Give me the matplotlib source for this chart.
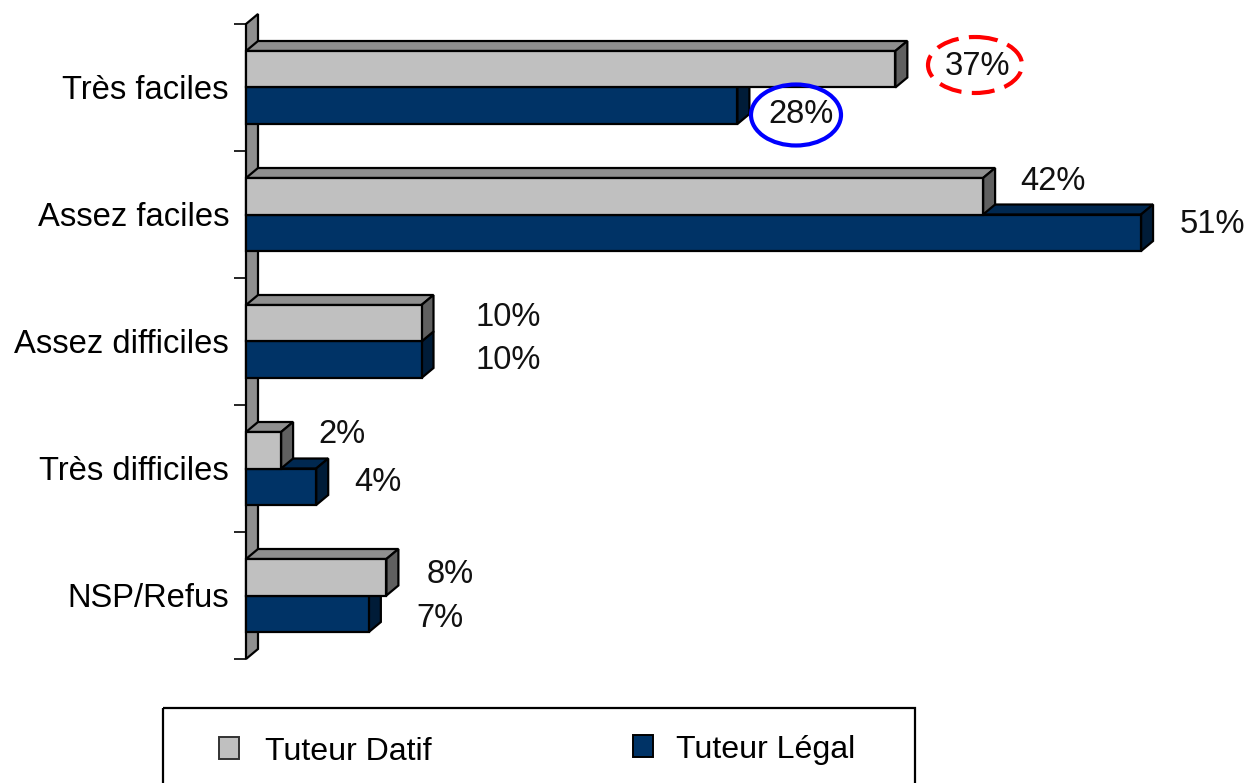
# -*- coding: utf-8 -*-
"""Barres horizontales pseudo-3D : Tuteur Datif / Tuteur Légal"""
import matplotlib
matplotlib.use("Agg")
import matplotlib.pyplot as plt
from matplotlib.patches import Ellipse, Polygon, Rectangle

plt.rcParams['font.family'] = ['Liberation Sans', 'DejaVu Sans']

categories = ["Très faciles", "Assez faciles", "Assez difficiles", "Très difficiles", "NSP/Refus"]
datif = [37, 42, 10, 2, 8]
legal = [28, 51, 10, 4, 7]
series_names = ["Tuteur Datif", "Tuteur Légal"]

W, H = 1250, 783
# position du repere en pixels
X0, PCT_PX = 246, 17.55
Y0, BAND_PX = 24, 127
DEPTH_X, DEPTH_Y = 12, 10
FS = 23.6

C_DATIF = ("#C0C0C0", "#8F8F8F", "#606060")
C_LEGAL = ("#003366", "#002850", "#001C38")

# decalage manuel des etiquettes (pixels, depuis le bout de la barre)
OFF_DATIF = [(82, -3), (70, -15), (87, -6), (61, -16), (64, -3)]
OFF_LEGAL = [(64, 9), (71, -8), (87, 1), (62, -4), (71, 5)]

fig = plt.figure(figsize=(W / 100, H / 100), dpi=100)
ax_w = 51 * PCT_PX
ax = fig.add_axes([X0 / W, 1 - (Y0 + 5 * BAND_PX) / H, ax_w / W, 5 * BAND_PX / H])
ax.set_xlim(0, 51)
ax.set_ylim(5, 0)
ax.patch.set_visible(False)
for s in ax.spines.values():
    s.set_visible(False)

dx = DEPTH_X / PCT_PX
dy = DEPTH_Y / BAND_PX
BAR_H = 36.5 / BAND_PX
EDGE = dict(edgecolor="black", linewidth=1.6, joinstyle="miter", clip_on=False)

# paroi de fond
ax.add_patch(Polygon([(0, 0), (dx, -dy), (dx, 5 - dy), (0, 5)], facecolor="#8F8F8F", **EDGE))

ax.set_xticks([])
ax.set_yticks(range(6))
ax.set_yticklabels([""] * 6)
ax.tick_params(axis="y", length=12 * 0.72, width=1.2, color="black")
for i, name in enumerate(categories):
    ax.annotate(name, (0, i + 0.5), xytext=(-17 * 0.72, -2.3), textcoords="offset points",
                ha="right", va="center", fontsize=FS, color="black")


def bar3d(val, top, colors):
    bottom = top + BAR_H
    ax.add_patch(Polygon([(0, top), (dx, top - dy), (val + dx, top - dy), (val, top)],
                         facecolor=colors[1], **EDGE))
    ax.add_patch(Polygon([(val, top), (val + dx, top - dy), (val + dx, bottom - dy), (val, bottom)],
                         facecolor=colors[2], **EDGE))
    ax.add_patch(Rectangle((0, top), val, BAR_H, facecolor=colors[0], **EDGE))


for i in range(len(categories)):
    c = i + 0.5
    bar3d(legal[i], c, C_LEGAL)
    bar3d(datif[i], c - BAR_H, C_DATIF)
    for val, y, off in [(datif[i], c - BAR_H / 2, OFF_DATIF[i]), (legal[i], c + BAR_H / 2, OFF_LEGAL[i])]:
        ax.annotate(f"{val}%", (val, y), xytext=(off[0] * 0.72, -off[1] * 0.72),
                    textcoords="offset points", ha="center", va="center", fontsize=FS, color="#111111")

# surcouche en pixels : cercles et legende
ov = fig.add_axes([0, 0, 1, 1])
ov.set_xlim(0, W)
ov.set_ylim(H, 0)
ov.axis("off")
ov.patch.set_visible(False)

ov.add_patch(Ellipse((975, 65), 94, 56, fill=False, edgecolor="#FF0000", linewidth=3,
                     linestyle=(0, (5.5, 2.5))))
ov.add_patch(Ellipse((796, 115), 90, 61, fill=False, edgecolor="#0000FF", linewidth=3))

ov.add_patch(Rectangle((163, 708), 752, 90, fill=False, edgecolor="black", linewidth=1.6))
ov.add_patch(Rectangle((219, 737), 20, 22, facecolor=C_DATIF[0], edgecolor="#333333", linewidth=1.4))
ov.add_patch(Rectangle((633, 735), 20, 22, facecolor=C_LEGAL[0], edgecolor="black", linewidth=1.4))
ov.text(265, 752, series_names[0], fontsize=FS - 0.5, ha="left", va="center", color="black")
ov.text(676, 750, series_names[1], fontsize=FS - 0.5, ha="left", va="center", color="black")

fig.savefig("out.png", dpi=100)
